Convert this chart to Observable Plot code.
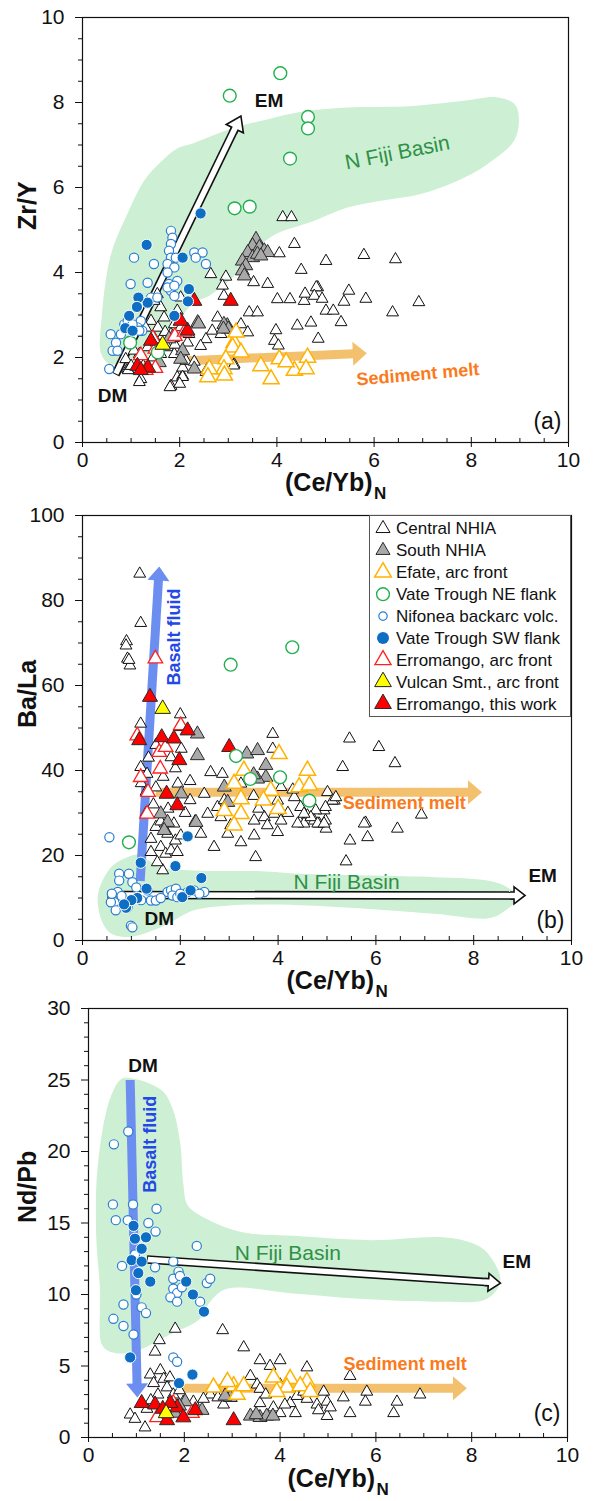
<!DOCTYPE html>
<html><head><meta charset="utf-8">
<script src="https://cdn.jsdelivr.net/npm/d3@7"></script>
<script src="https://cdn.jsdelivr.net/npm/@observablehq/plot@0.6"></script>
<style>
body{margin:0;background:#fff;font-family:"Liberation Sans",Arial,sans-serif;}
#wrap{position:relative;width:597px;height:1501px;overflow:hidden;}
#wrap svg{display:block;}
</style></head>
<body><div id="wrap"></div>
<script>
// ---------------- DATA ----------------
const seriesNames = ["Central NHIA","South NHIA","Efate, arc front","Vate Trough NE flank","Nifonea backarc volc.","Vate Trough SW flank","Erromango, arc front","Vulcan Smt., arc front","Erromango, this work"];
const xMajor = [0,2,4,6,8,10];
const yMajorA = [0,2,4,6,8,10];
const yMajorB = [0,20,40,60,80,100];
const yMajorC = [0,5,10,15,20,25,30];
const yLabels = ["Zr/Y","Ba/La","Nd/Pb"];
const xLabel = ["(Ce/Yb)","N"];
const panelTags = ["(a)","(b)","(c)"];

// Panel (a): (Ce/Yb)N vs Zr/Y
const centralA = [[4.12,5.3],[4.3,5.3],[4.36,4.67],[4.5,4.06],[4.05,4.45],[3.81,3.73],[4.01,3.37],[4.27,3.37],[4.56,3.33],[4.84,3.65],[4.42,2.75],[4.7,2.82],[3.98,2.64],[3.95,2.39],[3.43,3.06],[3.6,3.06],[3.26,2.78],[3.4,2.59],[3.12,1.84],[2.95,3.9],[2.64,3.96],[2.88,3.69],[2.91,3.45],[2.78,2.94],[2.67,2.63],[2.54,2.43],[2.43,2.27],[2.57,1.73],[2.85,2.55],[2.02,3.41],[1.95,3.1],[1.89,2.78],[1.68,2.94],[1.61,3.18],[1.54,3.49],[1.47,3.33],[1.82,2.55],[1.65,2.51],[1.47,2.47],[1.34,2.24],[1.17,2.08],[1.06,2.16],[0.89,1.96],[0.93,1.73],[1.2,1.49],[1.82,1.33],[1.95,1.53],[2.06,1.57],[2.06,1.76],[2.13,1.92],[2.16,2.35],[2.19,2.55],[2.02,2.71],[1.61,2.08],[1.41,2.86],[1.75,2.24],[1.89,2.08],[5.01,4.27],[5.79,4.41],[6.44,4.31],[4.58,3.5],[4.81,3.65],[4.77,3.45],[4.93,3.38],[5.01,3.1],[5.16,3.1],[5.38,3.31],[5.48,3.57],[5.83,3.38],[5.32,2.83],[6.38,3.06],[6.92,3.3],[4.85,2.44],[4.03,2.28],[3.11,1.81],[2.54,1.66],[2.06,1.54],[2.0,1.38],[1.8,1.3],[1.17,1.42],[0.94,1.7],[3.52,3.77],[1.3,2.7],[1.55,2.7],[1.7,2.6],[1.25,1.8],[1.45,2.0],[1.0,1.8],[1.9,2.3],[2.3,1.9]];
const southA = [[3.57,4.78],[3.5,4.63],[3.64,4.59],[3.74,4.51],[3.81,4.47],[3.4,4.47],[3.5,4.35],[3.6,4.43],[3.29,4.27],[3.36,4.16],[3.29,4.04],[3.67,4.39],[3.33,3.92],[2.98,2.75],[2.91,2.78],[2.37,2.82],[2.06,2.16],[2.02,1.96],[1.58,1.88],[2.3,1.73],[1.85,2.47],[2.39,2.79],[1.78,2.44],[3.0,2.67],[2.9,2.67]];
const efateA = [[3.12,2.35],[3.09,2.24],[3.26,2.12],[2.95,1.96],[2.91,1.73],[2.61,1.73],[3.67,1.8],[3.88,1.49],[4.05,1.96],[4.36,1.69],[4.63,2.0],[4.6,1.73],[3.16,2.59],[2.58,1.54],[2.92,1.58],[4.19,1.89]];
const vateNEA = [[3.03,8.16],[4.07,8.69],[4.64,7.66],[4.64,7.39],[4.27,6.68],[3.13,5.51],[3.44,5.55],[0.98,2.35],[1.55,2.12]];
const nifoneaA = [[0.55,1.73],[0.58,2.55],[0.62,2.16],[0.69,2.35],[0.72,2.16],[0.79,2.55],[0.86,2.78],[0.99,3.73],[1.06,4.35],[1.2,2.86],[1.23,2.63],[1.34,3.76],[1.47,4.2],[1.41,3.41],[1.54,3.41],[1.82,4.98],[1.85,4.82],[1.82,4.67],[1.78,4.51],[1.82,4.35],[1.75,4.2],[1.89,4.12],[1.75,4.0],[1.78,3.73],[1.82,3.57],[1.89,3.45],[1.75,3.65],[1.95,3.8],[1.92,4.35],[2.3,4.47],[2.47,4.47],[2.33,4.35],[2.54,4.2],[1.89,3.69],[1.13,2.71],[0.93,2.86],[1.03,2.78],[1.17,2.63]];
const vateSWA = [[1.32,4.65],[2.43,5.39],[2.06,4.35],[2.19,3.61],[2.17,3.32],[1.89,2.98],[1.34,3.29],[1.15,3.41],[1.12,3.19],[0.96,2.98],[0.88,2.69],[1.03,2.63]];
const erroArcA = [[1.3,1.7],[1.5,1.75],[1.2,2.05],[1.45,2.45],[1.5,2.2],[1.9,2.5],[2.1,2.6]];
const vulcanA = [[1.65,2.3]];
const erroThisA = [[1.13,1.8],[1.35,1.76],[2.16,2.63],[3.05,3.33],[2.3,3.33],[2.02,2.86],[1.41,2.39],[1.2,1.7]];
const fijiA = [[0.38,2.1],[0.4,3.0],[0.58,4.4],[0.93,5.4],[1.26,6.15],[1.61,6.6],[1.95,6.92],[2.3,7.05],[3.1,7.4],[3.8,7.6],[4.5,7.78],[5.45,7.88],[6.8,7.92],[7.85,8.04],[8.54,8.12],[8.9,7.95],[8.98,7.6],[8.88,7.1],[8.33,6.55],[7.72,6.16],[6.96,5.85],[6.14,5.69],[5.45,5.53],[4.77,5.22],[4.35,5.06],[4.0,4.92],[3.5,4.5],[3.1,3.9],[2.6,3.45],[2.3,3.3],[2.0,2.9],[1.6,2.3],[1.3,2.0],[0.9,1.88],[0.55,1.85]];
const arrowsA = [{x1:0.68,y1:1.6,x2:3.26,y2:7.68,kind:"outlineA"},{x1:2.05,y1:1.92,x2:5.85,y2:2.1,kind:"orange"}];
const notesA = [["EM",3.84,8.04],["DM",0.62,1.1],["Sediment melt",6.9,1.6],["N Fiji Basin",6.48,6.82]];

// Panel (b): (Ce/Yb)N vs Ba/La
const centralB = [[1.17,86.3],[1.19,74.7],[0.9,70.4],[0.92,66.3],[0.97,64.7],[0.89,69.4],[0.95,66],[1.19,51.0],[2.0,53.2],[2.01,50.2],[2.02,45.1],[1.81,43.1],[1.19,40.8],[1.32,39.2],[1.95,36.9],[2.62,39.6],[2.86,39.2],[2.49,34.5],[2.76,31.4],[3.24,36.9],[3.89,48.6],[3.89,45.1],[5.32,40.8],[5.46,47.5],[4.06,36.1],[5.01,34.9],[5.15,32.9],[3.99,32.9],[4.33,33.7],[4.46,31.4],[4.6,29.4],[4.74,28.2],[4.94,30.6],[3.92,29.8],[3.72,29],[3.51,28.2],[2.83,29],[2.56,29.8],[3.03,27.1],[4.06,28.2],[4.53,27.5],[4.98,26.3],[6.06,45.5],[6.39,41.7],[6.93,29.6],[5.79,27.7],[6.44,26.3],[5.47,23.5],[5.83,24.3],[5.39,18.6],[5.11,32.9],[4.97,31.4],[4.77,30.6],[4.97,28.2],[4.84,27.5],[4.67,29],[4.53,29.8],[5.18,33.7],[2.42,25.1],[2.69,22],[2.97,25.1],[3.24,23.1],[3.54,19.6],[3.51,24.7],[3.78,27.1],[3.99,25.5],[4.4,27.5],[4.81,27.5],[4.94,27.5],[5.76,27.5],[1.6,26.7],[1.4,23.9],[1.6,22],[1.7,20.4],[1.64,16.5],[1.53,18.4],[1.81,21.2],[1.94,20.8],[1.9,23.5],[1.4,20.8],[2.01,24.7],[1.74,25.1],[1.5,26.7],[1.87,27.5],[1.3,30],[1.45,32],[1.6,28],[1.75,31],[2.2,33],[2.3,28],[2.1,30],[1.5,36],[1.65,38.5],[2.2,37.5],[3.5,34],[3.6,31],[4.2,30],[2.9,33],[1.35,43],[1.2,37],[4.3,35.5],[1.9,40.5],[1.5,46],[1.3,35]];
const southB = [[2.35,48.6],[2.35,43.5],[3.36,43.9],[3.58,44.7],[3.75,41.2],[3.75,38.4],[3.58,38.0],[2.9,36.1],[2.97,32.5],[1.6,29.8],[1.74,27.8],[2.32,27.8],[2.02,34.5],[1.67,25.9],[3.5,39]];
const efateB = [[4.02,43.9],[4.6,40],[4.43,36.1],[3.85,35.3],[3.24,33.3],[3.1,36.9],[3.24,29.8],[4.64,36.5],[3.1,27.1],[2.9,30.5],[3.7,33],[4.0,31],[3.3,40]];
const vateNEB = [[3.03,64.9],[4.29,69],[3.14,43.4],[3.43,38],[4.04,38.4],[4.64,32.9],[0.95,23.1]];
const nifoneaB = [[0.55,24.3],[0.75,15.7],[0.95,15.7],[0.75,14.1],[1.02,13.7],[0.72,11.4],[0.65,9],[0.58,9],[0.68,7.1],[0.99,3.5],[1.02,3.1],[0.92,7.8],[1.4,9.4],[1.5,9.4],[1.74,11.4],[1.81,11.8],[1.91,12.2],[1.84,10.6],[2.15,11.4],[2.28,11.8],[2.49,11.4],[2.39,11.0],[1.94,10.2],[0.95,9],[0.85,8.2],[1.33,11.8],[0.6,11],[0.8,10.5],[1.1,12.5],[1.6,10],[2.0,11],[1.2,9.5]];
const vateSWB = [[2.15,24.5],[1.19,18.3],[1.9,17.5],[2.43,14.7],[1.31,12.2],[1.12,10.0],[0.89,7.7],[2.04,10.2],[2.21,11.8],[1.0,9.5],[0.85,8.5]];
const erroArcB = [[1.49,66.3],[1.12,48.2],[1.57,44.3],[1.59,40.4],[1.34,34.9],[1.32,29.8],[1.19,38.4],[2.01,50.6],[1.7,45.5]];
const vulcanB = [[1.64,54.5]];
const erroThisB = [[1.38,57.3],[1.16,47.1],[1.62,47.8],[1.87,47.5],[2.15,49.4],[1.98,42.4],[3.0,45.5],[1.72,34.5],[1.94,31.8]];
const fijiB = [[0.31,10.2],[0.58,17.2],[0.92,19.6],[1.15,20.2],[1.4,18.5],[1.6,17.2],[2.28,16.5],[3.65,16.3],[4.46,15.7],[7.19,14.9],[8.28,14.1],[8.69,12.5],[8.9,10.2],[8.55,6.3],[8.28,5.2],[7.19,6.3],[4.46,8.3],[2.96,8.2],[2.28,7.1],[1.6,3.1],[0.92,0.8],[0.51,2.35]];
const arrowsB = [{x1:1.18,y1:14,x2:1.57,y2:88,kind:"blue"},{x1:1.5,y1:34.9,x2:8.17,y2:34.9,kind:"orange"},{x1:0.51,y1:10.7,x2:9.05,y2:10.6,kind:"outlineB"}];
const notesB = [["Basalt fluid",1.87,71.4],["Sediment melt",6.58,32.3],["N Fiji Basin",5.4,13.7],["EM",9.41,15.3],["DM",1.57,5.1]];

// Panel (c): (Ce/Yb)N vs Nd/Pb
const centralC = [[1.81,7.6],[2.8,7.5],[1.48,6.8],[1.39,6.0],[3.24,6.3],[3.58,5.4],[4.0,5.4],[3.79,5.0],[4.56,4.9],[5.46,4.3],[3.38,4.3],[3.52,3.7],[4.0,3.7],[2.87,3.9],[1.5,4.7],[1.29,4.4],[1.57,4.1],[1.36,3.8],[1.64,3.5],[1.77,3.0],[1.98,2.5],[2.19,2.5],[2.54,3.0],[2.82,2.3],[3.58,2.4],[3.86,2.1],[4.0,1.7],[4.21,2.4],[4.35,2.9],[4.32,1.7],[4.49,3.2],[4.56,2.7],[4.77,2.3],[4.8,1.9],[4.91,3.2],[4.98,2.5],[4.98,1.5],[5.05,2.1],[5.32,2.8],[5.46,1.7],[5.81,3.2],[5.78,2.5],[6.44,2.5],[6.37,1.7],[6.92,3.0],[0.87,1.6],[0.97,1.3],[1.18,0.7],[1.22,2.0],[3.58,3.4],[1.45,3.0],[1.7,4.2],[1.3,2.6],[2.4,2.7],[3.7,3.0],[4.1,2.3],[1.9,3.3],[2.7,2.8]];
const southC = [[2.02,2.5],[2.37,1.9],[2.96,2.8],[2.85,2.9],[1.81,1.7],[3.38,1.5],[3.58,1.4],[3.72,1.5],[3.5,1.6],[3.85,1.5],[1.9,2.2]];
const efateC = [[2.61,3.5],[3.03,3.6],[3.1,3.0],[3.86,4.2],[4.21,4.1],[4.56,3.9],[4.14,3.5],[3.93,3.2],[4.42,3.6],[4.63,3.2],[3.24,3.6],[2.9,3.9]];
const vateNEC = [];
const nifoneaC = [[0.83,21.4],[0.53,20.5],[0.51,16.3],[0.93,16.3],[1.42,16.0],[0.57,15.2],[1.25,15.0],[1.4,14.4],[0.82,15.2],[2.26,13.4],[0.7,12.0],[1.39,11.9],[1.77,12.3],[1.88,11.6],[1.77,11.1],[1.77,10.4],[1.85,10.1],[1.71,9.8],[1.85,9.5],[1.95,10.5],[1.91,11.3],[2.47,10.8],[2.54,11.1],[2.33,9.5],[0.73,9.3],[0.52,8.3],[0.73,7.8],[1.11,9.1],[1.2,8.7],[0.94,7.2],[1.77,5.6],[1.85,5.3],[0.97,12.8],[1.0,10.0]];
const vateSWC = [[0.94,14.8],[0.97,13.9],[1.2,14.0],[1.11,13.2],[0.9,12.4],[1.11,12.3],[1.04,11.5],[1.29,10.9],[0.99,10.3],[0.87,5.6],[2.04,10.9],[2.18,10.0],[2.41,8.8],[1.89,3.8],[2.17,4.4]];
const erroArcC = [[1.43,1.4],[1.77,2.4],[2.16,1.7]];
const vulcanC = [[1.62,1.7]];
const erroThisC = [[1.11,2.4],[1.39,2.3],[1.64,1.2],[1.85,2.1],[1.98,1.4],[2.23,1.9],[3.03,1.2],[1.71,2.4],[1.55,2.0]];
const fijiC = [[0.16,14.2],[0.19,18.9],[0.43,23.5],[0.66,25.0],[0.82,25.15],[1.52,24.3],[1.75,23.05],[1.91,20.7],[1.98,17.7],[2.06,16.3],[2.3,15.6],[3.15,14.4],[4.3,14.1],[5.9,13.8],[7.4,14.0],[8.0,13.6],[8.3,13.0],[8.6,11.0],[8.32,9.7],[7.41,9.5],[5.67,9.7],[4.28,10.07],[2.89,10.4],[2.54,9.5],[2.33,8.3],[1.7,7.2],[1.15,6.25],[0.8,5.9],[0.45,6.0],[0.28,6.5],[0.24,10.4]];
const arrowsC = [{x1:0.87,y1:25,x2:1.02,y2:2.8,kind:"blue"},{x1:1.95,y1:3.45,x2:7.9,y2:3.45,kind:"orange"},{x1:1.22,y1:12.45,x2:8.6,y2:10.8,kind:"outlineC"}];
const notesC = [["DM",1.14,26.0],["Basalt fluid",1.28,20.5],["N Fiji Basin",4.16,12.9],["EM",8.94,12.3],["Sediment melt",6.61,5.14]];

// ---------------- STYLES ----------------
const FONT = '"Liberation Sans", Arial, sans-serif';
const styles = [
  {symbol:"triangle", fill:"#fff", stroke:"#111", r:4.4, sw:1},
  {symbol:"triangle", fill:"#a9a9a9", stroke:"#2a2a2a", r:5.2, sw:1},
  {symbol:"triangle", fill:"#fff", stroke:"#ffb300", r:6.0, sw:1.5},
  {symbol:"circle", fill:"#fff", stroke:"#22b04e", r:6.4, sw:1.4},
  {symbol:"circle", fill:"#fff", stroke:"#2a7fd0", r:4.6, sw:1.2},
  {symbol:"circle", fill:"#0d6ec4", stroke:"#fff", r:5.6, sw:1},
  {symbol:"triangle", fill:"#fff", stroke:"#ff2020", r:5.4, sw:1.3},
  {symbol:"triangle", fill:"#ffff00", stroke:"#222", r:5.8, sw:1},
  {symbol:"triangle", fill:"#ff0000", stroke:"#2a2a2a", r:5.6, sw:1}
];
const legendR = [5.2,5.2,6.2,6.4,4.2,6.0,6.0,6.2,6.2];
const drawOrder = [0,1,2,6,8,3,4,5,7];
const REGION_FILL = "#cdefd3";
const arrowStyles = {
  outlineA:{outline:true, w:7, W:19, L:14},
  outlineB:{outline:true, w:7, W:17, L:11},
  outlineC:{outline:true, w:7, W:18, L:12},
  orange:{color:"#f3c16e", w:9, W:24, L:14},
  blue:{color:"#6b8ef0", w:9, W:22, L:14}
};
const noteStyle = {
  "EM":{fontSize:19, fontWeight:"bold", fill:"#111"},
  "DM":{fontSize:19, fontWeight:"bold", fill:"#111"},
  "Sediment melt":{fontSize:18, fontWeight:"bold", fill:"#fa7a1c"},
  "N Fiji Basin":{fontSize:21, fill:"#2f9046"},
  "Basalt fluid":{fontSize:18, fontWeight:"bold", fill:"#2448e6", rotate:-90}
};
const noteRotate = {a:{"Sediment melt":-5, "N Fiji Basin":-11}, b:{}, c:{}};

function headSymbol(W, L, w, stub) {
  return {draw(ctx) {
    if (stub > 0) { ctx.moveTo(-w/2, L+stub); ctx.lineTo(-w/2, L); ctx.lineTo(-W/2, L); }
    else ctx.moveTo(-W/2, L);
    ctx.lineTo(0, 0); ctx.lineTo(W/2, L);
    if (stub > 0) { ctx.lineTo(w/2, L); ctx.lineTo(w/2, L+stub); }
    else ctx.closePath();
  }};
}

function arrowMarks(arrows, kx, ky) {
  const marks = [];
  for (const a of arrows) {
    const st = arrowStyles[a.kind];
    const dxp = (a.x2-a.x1)*kx, dyp = (a.y2-a.y1)*ky;
    const len = Math.hypot(dxp, dyp);
    const ux = dxp/len, uy = dyp/len;
    const rot = Math.atan2(dxp, dyp)*180/Math.PI;
    const back = st.L - 1;
    const seg = [{x1:a.x1, y1:a.y1, x2:a.x2 - ux*back/kx, y2:a.y2 - uy*back/ky}];
    const tip = [{x:a.x2, y:a.y2}];
    const lk = {x1:"x1", y1:"y1", x2:"x2", y2:"y2", strokeLinecap:"butt"};
    if (st.outline) {
      marks.push(Plot.link(seg, {...lk, stroke:"#111", strokeWidth: st.w + 1.6}));
      const inner = [{...seg[0], x1:a.x1 + ux*0.9/kx, y1:a.y1 + uy*0.9/ky}];
      marks.push(Plot.link(inner, {...lk, stroke:"#fff", strokeWidth: st.w - 1.6}));
      marks.push(Plot.dot(tip, {x:"x", y:"y", r:5, symbol: headSymbol(st.W, st.L, st.w, 4), fill:"#fff", stroke:"#111", strokeWidth:1.6, rotate: rot}));
    } else {
      marks.push(Plot.link(seg, {...lk, stroke: st.color, strokeWidth: st.w}));
      marks.push(Plot.dot(tip, {x:"x", y:"y", r:5, symbol: headSymbol(st.W, st.L, st.w, 0), fill: st.color, stroke:"none", rotate: rot}));
    }
  }
  return marks;
}

function minorTicks(max, step, majors) {
  return d3.range(0, max + step/2, step).filter(v => !majors.some(m => Math.abs(m - v) < 1e-9));
}

function makePanel(p) {
  const kx = (p.width - p.mL - p.mR)/10, ky = (p.height - p.mT - p.mB)/p.yMax;
  const marks = [];
  marks.push(Plot.line(p.region, {x: d=>d[0], y: d=>d[1], curve:"catmull-rom-closed", fill: REGION_FILL, stroke:"none"}));
  marks.push(...arrowMarks(p.arrows, kx, ky));
  for (const i of drawOrder) {
    const s = styles[i];
    if (!p.series[i].length) continue;
    marks.push(Plot.dot(p.series[i], {x: d=>d[0], y: d=>d[1], symbol: s.symbol, r: s.r, fill: s.fill, stroke: s.stroke, strokeWidth: s.sw}));
  }
  for (const [t, x, y] of p.notes) {
    const st = noteStyle[t];
    const rot = (noteRotate[p.key][t] !== undefined) ? noteRotate[p.key][t] : (st.rotate || 0);
    marks.push(Plot.text([t], {x: () => x, y: () => y, text: d => d, fontSize: st.fontSize, fontWeight: st.fontWeight || "normal", fill: st.fill, rotate: rot, fontFamily: FONT}));
  }
  // panel tag
  marks.push(Plot.text([p.tag], {frameAnchor:"bottom-right", dx:-7, dy:-(p.tagDy), text:d=>d, textAnchor:"end", fontSize:23, fill:"#111"}));
  // axes
  const yMinor = minorTicks(p.yMax, p.yMinorStep, p.yMajor);
  const xMinor = minorTicks(10, 0.5, xMajor);
  marks.push(Plot.axisY(p.yMajor, {anchor:"left", tickSize:7, tickPadding:11, fontSize:21, label:null, stroke:"#111", fill:"#111"}));
  marks.push(Plot.axisY(yMinor, {anchor:"left", tickSize:4, tickFormat:() => "", label:null, stroke:"#111"}));
  marks.push(Plot.axisX(xMajor, {anchor:"bottom", tickSize:10, dy:-5, tickFormat:() => "", label:null, stroke:"#111"}));
  marks.push(Plot.axisX(xMinor, {anchor:"bottom", tickSize:4, dy:-4, tickFormat:() => "", label:null, stroke:"#111"}));
  marks.push(Plot.axisX(xMajor, {anchor:"bottom", tickSize:0, tickPadding:10, fontSize:21, label:null, fill:"#111"}));
  marks.push(Plot.frame({stroke:"#111", strokeWidth:1.2}));
  // axis titles
  marks.push(Plot.text([p.yLabel], {frameAnchor:"left", dx:-p.yTitleDx, rotate:-90, text:d=>d, fontSize:25, fontWeight:"bold", fill:"#111"}));
  marks.push(Plot.text([xLabel[0]], {frameAnchor:"bottom", dx:47, dy:p.xTitleDy, text:d=>d, textAnchor:"end", fontSize:25, fontWeight:"bold", fill:"#111"}));
  marks.push(Plot.text([xLabel[1]], {frameAnchor:"bottom", dx:48.5, dy:p.xTitleDy + 8, text:d=>d, textAnchor:"start", fontSize:17, fontWeight:"bold", fill:"#111"}));
  return Plot.plot({
    width: p.width, height: p.height,
    marginLeft: p.mL, marginRight: p.mR, marginTop: p.mT, marginBottom: p.mB,
    x: {domain:[0,10]}, y: {domain:[0,p.yMax]},
    style: {fontFamily: FONT, background:"#fff", overflow:"visible"},
    marks
  });
}

const wrap = document.getElementById("wrap");
const panels = [
  {key:"a", series:[centralA,southA,efateA,vateNEA,nifoneaA,vateSWA,erroArcA,vulcanA,erroThisA], region:fijiA, arrows:arrowsA, notes:notesA,
   yMax:10, yMajor:yMajorA, yMinorStep:0.5, width:597, height:500, mL:82, mR:29, mT:17, mB:58, yLabel:yLabels[0], tag:panelTags[0], tagDy:14, yTitleDx:55, xTitleDy:48},
  {key:"b", series:[centralB,southB,efateB,vateNEB,nifoneaB,vateSWB,erroArcB,vulcanB,erroThisB], region:fijiB, arrows:arrowsB, notes:notesB,
   yMax:100, yMajor:yMajorB, yMinorStep:5, width:597, height:500, mL:82, mR:26, mT:15, mB:60, yLabel:yLabels[1], tag:panelTags[1], tagDy:13, yTitleDx:55, xTitleDy:48},
  {key:"c", series:[centralC,southC,efateC,vateNEC,nifoneaC,vateSWC,erroArcC,vulcanC,erroThisC], region:fijiC, arrows:arrowsC, notes:notesC,
   yMax:30, yMajor:yMajorC, yMinorStep:1, width:597, height:501, mL:88, mR:30, mT:8, mB:64, yLabel:yLabels[2], tag:panelTags[2], tagDy:17, yTitleDx:61, xTitleDy:49}
];
for (const p of panels) wrap.appendChild(makePanel(p));

// ---------------- LEGEND (inside panel b, top-right) ----------------
const lg = d3.select(wrap).append("svg")
  .attr("width", 203).attr("height", 203)
  .style("position","absolute").style("left","369px").style("top","515px")
  .style("font-family", FONT);
lg.append("rect").attr("x",0.5).attr("y",0.5).attr("width",201).attr("height",201)
  .attr("fill","#fff").attr("stroke","#555").attr("stroke-width",1);
seriesNames.forEach((name, i) => {
  const s = styles[i];
  const g = lg.append("g").attr("transform", `translate(14,${13.5 + 21.9*i})`);
  const type = s.symbol === "triangle" ? d3.symbolTriangle : d3.symbolCircle;
  g.append("path").attr("d", d3.symbol(type, legendR[i]*legendR[i]*Math.PI)())
    .attr("fill", s.fill).attr("stroke", s.stroke === "#fff" ? "none" : s.stroke).attr("stroke-width", s.sw);
  g.append("text").attr("x", 13).attr("y", 0).attr("dy","0.35em")
    .attr("font-size", 17).attr("fill","#111").text(name);
});
</script>
</body></html>
